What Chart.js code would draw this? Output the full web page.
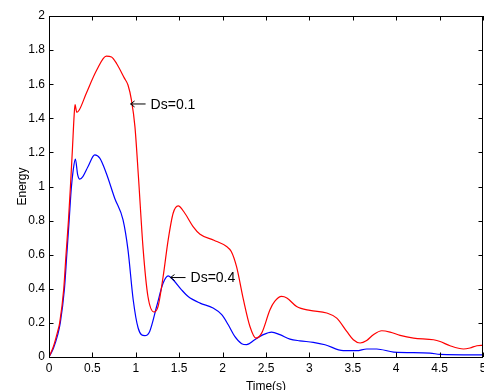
<!DOCTYPE html>
<html>
<head>
<meta charset="utf-8">
<script src="https://cdn.jsdelivr.net/npm/chart.js@4.4.1/dist/chart.umd.min.js"></script>
<style>
  body { margin: 0; background: #fff; }
  #wrap { width: 484px; height: 390px; }
</style>
</head>
<body>
<div id="wrap"><canvas id="myChart" width="484" height="390"></canvas></div>
<script>
// time (s) / energy
const timeRed = [0, 0.05, 0.1, 0.123, 0.17, 0.196, 0.224, 0.247, 0.27, 0.29, 0.3, 0.32, 0.35, 0.43, 0.55, 0.66, 0.72, 0.78, 0.87, 0.91, 0.95, 0.99, 1.03, 1.085, 1.14, 1.21, 1.257, 1.315, 1.373, 1.43, 1.488, 1.565, 1.66, 1.74, 1.9, 2.046, 2.1, 2.16, 2.24, 2.315, 2.384, 2.45, 2.546, 2.6, 2.68, 2.74, 2.853, 3.007, 3.2, 3.315, 3.43, 3.506, 3.584, 3.66, 3.737, 3.834, 3.93, 4.045, 4.2, 4.43, 4.506, 4.62, 4.775, 4.85, 4.93, 5.0];
const energyRed = [0, 0.06, 0.15, 0.2, 0.4, 0.6, 0.8, 1.0, 1.22, 1.42, 1.48, 1.435, 1.45, 1.547, 1.683, 1.765, 1.76, 1.72, 1.634, 1.595, 1.507, 1.351, 1.06, 0.63, 0.355, 0.264, 0.297, 0.472, 0.687, 0.843, 0.886, 0.843, 0.765, 0.72, 0.685, 0.648, 0.619, 0.531, 0.336, 0.179, 0.111, 0.14, 0.277, 0.326, 0.355, 0.346, 0.296, 0.273, 0.258, 0.228, 0.15, 0.101, 0.082, 0.097, 0.131, 0.154, 0.146, 0.127, 0.111, 0.101, 0.091, 0.066, 0.047, 0.053, 0.066, 0.068];

const timeBlue = [0, 0.05, 0.1, 0.13, 0.178, 0.205, 0.232, 0.257, 0.28, 0.304, 0.33, 0.354, 0.39, 0.45, 0.527, 0.585, 0.66, 0.758, 0.853, 0.91, 0.97, 1.027, 1.104, 1.16, 1.24, 1.315, 1.373, 1.43, 1.527, 1.603, 1.74, 1.89, 1.99, 2.065, 2.14, 2.22, 2.277, 2.37, 2.468, 2.565, 2.66, 2.776, 2.89, 3.045, 3.18, 3.39, 3.545, 3.66, 3.776, 3.97, 4.39, 4.506, 5.0];
const energyBlue = [0, 0.05, 0.13, 0.2, 0.4, 0.6, 0.8, 0.99, 1.1, 1.16, 1.07, 1.043, 1.058, 1.117, 1.185, 1.166, 1.078, 0.93, 0.804, 0.628, 0.336, 0.17, 0.125, 0.15, 0.296, 0.434, 0.476, 0.453, 0.394, 0.355, 0.316, 0.287, 0.248, 0.189, 0.121, 0.078, 0.072, 0.101, 0.131, 0.146, 0.131, 0.105, 0.095, 0.086, 0.072, 0.037, 0.037, 0.047, 0.047, 0.029, 0.023, 0.015, 0.012];

// labels pointing at the curves
const noteText = ["Ds=0.1", "Ds=0.4"];
const noteX = [0.94, 1.4];
const noteY = [1.484, 0.466];

const toPoints = (xs, ys) => xs.map((x, i) => ({ x: x, y: ys[i] }));
// 1.0 -> "1", 0.2 -> "0.2"
const plainNum = v => String(parseFloat(Number(v).toFixed(2)));

// box round the plot with ticks pointing inward, plus the arrow notes
const frameTicks = {
  id: "frameTicks",
  afterDraw(chart) {
    const ctx = chart.ctx;
    const { left, right, top, bottom } = chart.chartArea;
    const xs = chart.scales.x, ys = chart.scales.y;
    const tl = 4.5;
    ctx.save();
    ctx.strokeStyle = "#000";
    ctx.lineWidth = 1;
    ctx.beginPath();
    ctx.rect(Math.round(left) + 0.5, Math.round(top) + 0.5, Math.round(right - left) - 1, Math.round(bottom - top));
    xs.ticks.forEach(t => {
      const px = Math.round(xs.getPixelForValue(t.value)) + 0.5;
      ctx.moveTo(px, bottom); ctx.lineTo(px, bottom - tl);
      ctx.moveTo(px, top); ctx.lineTo(px, top + tl);
    });
    ys.ticks.forEach(t => {
      const py = Math.round(ys.getPixelForValue(t.value)) + 0.5;
      ctx.moveTo(left, py); ctx.lineTo(left + tl, py);
      ctx.moveTo(right, py); ctx.lineTo(right - tl, py);
    });
    ctx.stroke();

    ctx.fillStyle = "#000";
    ctx.font = "14px Arial, 'Liberation Sans', sans-serif";
    ctx.textAlign = "left";
    ctx.textBaseline = "middle";
    noteText.forEach((txt, i) => {
      const px = xs.getPixelForValue(noteX[i]);
      const py = ys.getPixelForValue(noteY[i]);
      ctx.beginPath();
      ctx.moveTo(px, py); ctx.lineTo(px + 15, py);
      ctx.moveTo(px + 4, py - 3); ctx.lineTo(px, py); ctx.lineTo(px + 4, py + 3);
      ctx.stroke();
      ctx.fillText(txt, px + 20, py + 1);
    });
    ctx.restore();
  }
};

const tickFont = { family: "Arial, 'Liberation Sans', sans-serif", size: 12 };

const config = {
  type: "line",
  data: {
    datasets: [
      {
        label: "Ds=0.1",
        data: toPoints(timeRed, energyRed),
        borderColor: "#ff0000",
        borderWidth: 1.2,
        pointRadius: 0,
        cubicInterpolationMode: "monotone",
      },
      {
        label: "Ds=0.4",
        data: toPoints(timeBlue, energyBlue),
        borderColor: "#0000ff",
        borderWidth: 1.2,
        pointRadius: 0,
        cubicInterpolationMode: "monotone",
      },
    ],
  },
  options: {
    responsive: false,
    animation: false,
    layout: { padding: { top: 16, right: 1, left: 0, bottom: 0 } },
    plugins: {
      legend: { display: false },
      tooltip: { enabled: false },
    },
    scales: {
      x: {
        type: "linear",
        min: 0,
        max: 5,
        grid: { drawOnChartArea: false, drawTicks: false },
        border: { display: false },
        ticks: { stepSize: 0.5, color: "#000", font: tickFont, padding: 4, maxRotation: 0, callback: plainNum },
        title: { display: true, text: "Time(s)", color: "#000", font: tickFont, padding: { top: 0, bottom: -4 } },
        afterFit: s => { s.height = 33; s.paddingLeft = 0; s.paddingRight = 0; },
      },
      y: {
        min: 0,
        max: 2,
        grid: { drawOnChartArea: false, drawTicks: false },
        border: { display: false },
        ticks: { stepSize: 0.2, color: "#000", font: tickFont, padding: 4, callback: plainNum },
        title: { display: true, text: "Energy", color: "#000", font: tickFont, padding: { top: 15, bottom: 0 } },
        afterFit: s => { s.width = 49; },
      },
    },
  },
  plugins: [frameTicks],
};

const myChart = new Chart(document.getElementById("myChart"), config);
</script>
</body>
</html>
